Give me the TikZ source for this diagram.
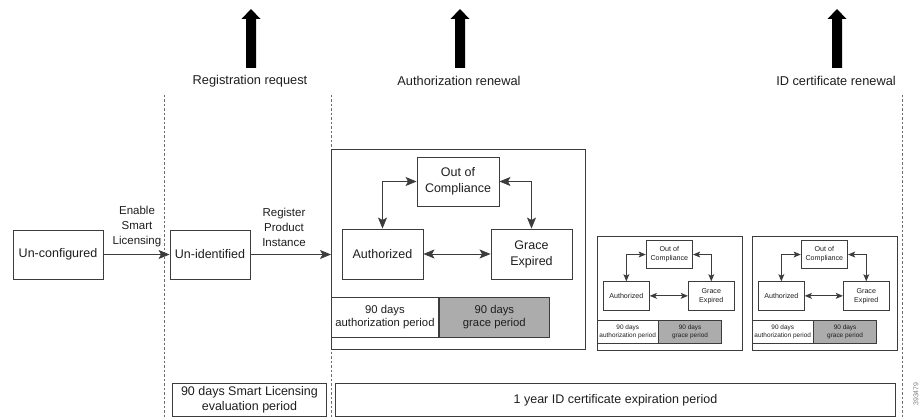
\documentclass[tikz,border=0pt]{standalone}
\usepackage{fontspec}
\setmainfont{Liberation Sans}
\usetikzlibrary{arrows.meta,calc}
\definecolor{ln}{RGB}{60,60,60}
\definecolor{txt}{RGB}{30,30,30}
\definecolor{bargray}{RGB}{172,172,172}
\definecolor{dashc}{RGB}{110,110,110}
\tikzset{
  box/.style={draw=ln, line width=0.9pt, inner sep=0pt, text=txt, align=center,
    font=\fontsize{12.5}{16}\selectfont},
  bar/.style={draw=ln, line width=0.9pt, inner sep=0pt, text=txt, align=center,
    minimum height=40pt, font=\fontsize{11.3}{13}\selectfont},
  lab/.style={inner sep=0pt, text=txt, align=center, font=\fontsize{12.8}{16}\selectfont},
  clab/.style={inner sep=0pt, text=txt, align=center, font=\fontsize{11.5}{15}\selectfont},
  dashline/.style={draw=dashc, line width=0.9pt, dash pattern=on 2.5pt off 2pt},
  bigarrow/.style={fill=black},
}
\newcommand\licbox[2]{%
  \node[box, minimum width=254pt, minimum height=200pt, anchor=north west] (#1frame) at (0,0) {};
  \node[box, minimum width=82pt, minimum height=49pt] (#1oc) at (127,32.5) {Out of\\Compliance};
  \node[box, minimum width=81pt, minimum height=50pt] (#1au) at (51.5,105) {Authorized};
  \node[box, minimum width=81pt, minimum height=50pt] (#1ge) at (200.5,105) {Grace\\Expired};
  \node[bar, minimum width=107pt, anchor=north west] (#1ap) at (0,148) {90 days\\authorization period};
  \node[bar, fill=bargray, minimum width=110pt, anchor=north west] (#1gp) at (#1ap.north east) {90 days\\grace period};
  \draw[draw=ln, line width=0.8pt, {Stealth[length=11pt,width=9pt,inset=2.5pt,scale=#2]}-{Stealth[length=11pt,width=9pt,inset=2.5pt,scale=#2]}] (#1au.east) -- (#1ge.west);
  \draw[draw=ln, line width=0.8pt, {Stealth[length=11pt,width=9pt,inset=2.5pt,scale=#2]}-{Stealth[length=11pt,width=9pt,inset=2.5pt,scale=#2]}] (#1au.north) |- (#1oc.west);
  \draw[draw=ln, line width=0.8pt, {Stealth[length=11pt,width=9pt,inset=2.5pt,scale=#2]}-{Stealth[length=11pt,width=9pt,inset=2.5pt,scale=#2]}] (#1oc.east) -| (#1ge.north);
}
\newcommand\upblock[1]{%
  \fill[bigarrow] (#1-5,68) -- (#1-5,19) -- (#1-9.5,19) -- (#1,9) -- (#1+9.5,19) -- (#1+5,19) -- (#1+5,68) -- cycle;
}
\begin{document}
\begin{tikzpicture}[x=1pt, y=-1pt]
\useasboundingbox (0,0) rectangle (922,417);
\fill[white] (0,0) rectangle (922,417);

% dashed timeline separators
\draw[dashline] (164,95) -- (164,417);
\draw[dashline] (331,95) -- (331,417);
\draw[dashline] (902,95) -- (902,417);

% big up arrows with labels
\upblock{251}
\upblock{460}
\upblock{837}
\node[lab] (l1) at (250,81) {Registration request};
\node[lab] (l2) at (459,81) {Authorization renewal};
\node[lab] (l3) at (836,81) {ID certificate renewal};

% left states
\node[box, minimum width=90pt, minimum height=49pt] (uc) at (58,254.5) {Un-configured};
\node[box, minimum width=80pt, minimum height=49pt] (ui) at (210,254.5) {Un-identified};

% main licensing box
\begin{scope}[shift={(331,149)}]
  \licbox{m}{1}
\end{scope}
\begin{scope}[shift={(597,236)}, scale=0.57, transform shape]
  \licbox{a}{0.65}
\end{scope}
\begin{scope}[shift={(752,236)}, scale=0.57, transform shape]
  \licbox{b}{0.65}
\end{scope}

% connectors
\draw[draw=ln, line width=0.8pt, -{Stealth[length=11pt,width=9pt,inset=2.5pt]}] (uc.east) -- (ui.west);
\draw[draw=ln, line width=0.8pt, -{Stealth[length=11pt,width=9pt,inset=2.5pt]}] (ui.east) -- (ui.east -| mframe.west);
\node[clab] (c1) at (137,227) {Enable\\Smart\\Licensing};
\node[clab] (c2) at (284,227) {Register\\Product\\Instance};

% bottom periods
\node[box, minimum width=154pt, minimum height=33pt, anchor=north west,
  font=\fontsize{12.5}{15}\selectfont] (ev) at (172,383) {90 days Smart Licensing\\evaluation period};
\node[box, minimum width=560pt, minimum height=33pt, anchor=north west] (idc) at (335,383) {1 year ID certificate expiration period};

% figure number
\node[rotate=90, inner sep=0pt, text=gray, font=\fontsize{7}{8}\selectfont] (num) at (916,394) {393479};
\end{tikzpicture}
\end{document}
